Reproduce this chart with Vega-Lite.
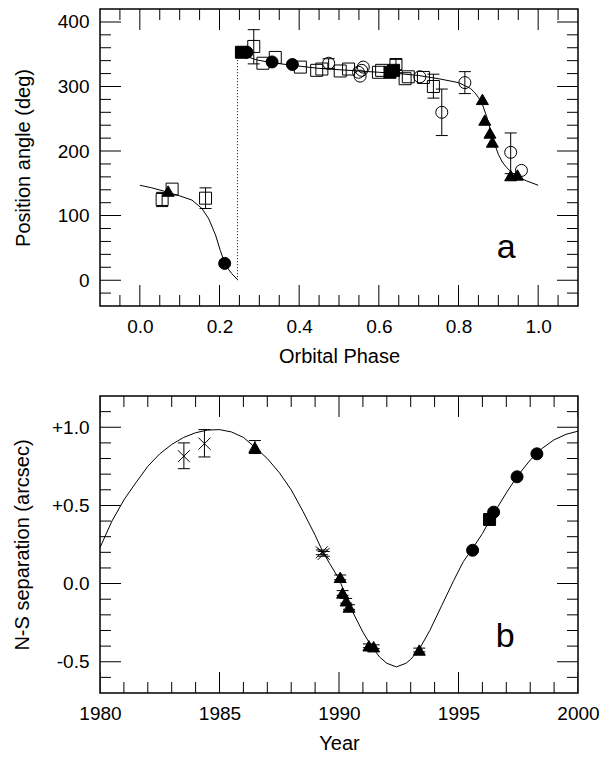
{
  "$schema": "https://vega.github.io/schema/vega-lite/v6.json",
  "padding": {"left": 11, "top": 8, "right": 5, "bottom": 5},
  "spacing": 28,
  "config": {
    "font": "Liberation Sans",
    "view": {"stroke": "black", "strokeWidth": 1.5},
    "axis": {"labelFont": "Liberation Sans", "labelFontSize": 19, "labelColor": "black", "titleFont": "Liberation Sans", "titleFontSize": 20, "titleFontWeight": "normal", "titleColor": "black"}
  },
  "datasets": {
    "xt1": [{"t": -0.05, "k": "minor"}, {"t": 0, "k": "major"}, {"t": 0.05, "k": "minor"}, {"t": 0.1, "k": "minor"}, {"t": 0.15, "k": "minor"}, {"t": 0.2, "k": "major"}, {"t": 0.25, "k": "minor"}, {"t": 0.3, "k": "minor"}, {"t": 0.35, "k": "minor"}, {"t": 0.4, "k": "major"}, {"t": 0.45, "k": "minor"}, {"t": 0.5, "k": "minor"}, {"t": 0.55, "k": "minor"}, {"t": 0.6, "k": "major"}, {"t": 0.65, "k": "minor"}, {"t": 0.7, "k": "minor"}, {"t": 0.75, "k": "minor"}, {"t": 0.8, "k": "major"}, {"t": 0.85, "k": "minor"}, {"t": 0.9, "k": "minor"}, {"t": 0.95, "k": "minor"}, {"t": 1.0, "k": "major"}, {"t": 1.05, "k": "minor"}],
    "yt1": [{"t": -20, "k": "minor"}, {"t": 0, "k": "major"}, {"t": 20, "k": "minor"}, {"t": 40, "k": "minor"}, {"t": 60, "k": "minor"}, {"t": 80, "k": "minor"}, {"t": 100, "k": "major"}, {"t": 120, "k": "minor"}, {"t": 140, "k": "minor"}, {"t": 160, "k": "minor"}, {"t": 180, "k": "minor"}, {"t": 200, "k": "major"}, {"t": 220, "k": "minor"}, {"t": 240, "k": "minor"}, {"t": 260, "k": "minor"}, {"t": 280, "k": "minor"}, {"t": 300, "k": "major"}, {"t": 320, "k": "minor"}, {"t": 340, "k": "minor"}, {"t": 360, "k": "minor"}, {"t": 380, "k": "minor"}, {"t": 400, "k": "major"}],
    "xt2": [{"t": 1980, "k": "major"}, {"t": 1981, "k": "minor"}, {"t": 1982, "k": "minor"}, {"t": 1983, "k": "minor"}, {"t": 1984, "k": "minor"}, {"t": 1985, "k": "major"}, {"t": 1986, "k": "minor"}, {"t": 1987, "k": "minor"}, {"t": 1988, "k": "minor"}, {"t": 1989, "k": "minor"}, {"t": 1990, "k": "major"}, {"t": 1991, "k": "minor"}, {"t": 1992, "k": "minor"}, {"t": 1993, "k": "minor"}, {"t": 1994, "k": "minor"}, {"t": 1995, "k": "major"}, {"t": 1996, "k": "minor"}, {"t": 1997, "k": "minor"}, {"t": 1998, "k": "minor"}, {"t": 1999, "k": "minor"}, {"t": 2000, "k": "major"}],
    "yt2": [{"t": -0.6, "k": "minor"}, {"t": -0.5, "k": "major"}, {"t": -0.4, "k": "minor"}, {"t": -0.3, "k": "minor"}, {"t": -0.2, "k": "minor"}, {"t": -0.1, "k": "minor"}, {"t": 0, "k": "major"}, {"t": 0.1, "k": "minor"}, {"t": 0.2, "k": "minor"}, {"t": 0.3, "k": "minor"}, {"t": 0.4, "k": "minor"}, {"t": 0.5, "k": "major"}, {"t": 0.6, "k": "minor"}, {"t": 0.7, "k": "minor"}, {"t": 0.8, "k": "minor"}, {"t": 0.9, "k": "minor"}, {"t": 1.0, "k": "major"}, {"t": 1.1, "k": "minor"}],
    "topcurve": [
      {"p": 0.0, "v": 147, "seg": 1}, {"p": 0.03, "v": 143, "seg": 1}, {"p": 0.06, "v": 138, "seg": 1}, {"p": 0.098, "v": 131, "seg": 1}, {"p": 0.131, "v": 124, "seg": 1}, {"p": 0.156, "v": 111, "seg": 1}, {"p": 0.173, "v": 95, "seg": 1}, {"p": 0.19, "v": 70, "seg": 1}, {"p": 0.202, "v": 46, "seg": 1}, {"p": 0.215, "v": 23, "seg": 1}, {"p": 0.231, "v": 10, "seg": 1}, {"p": 0.245, "v": 1, "seg": 1},
      {"p": 0.245, "v": 350, "seg": 2}, {"p": 0.27, "v": 346, "seg": 2}, {"p": 0.295, "v": 341, "seg": 2}, {"p": 0.33, "v": 337, "seg": 2}, {"p": 0.38, "v": 333, "seg": 2}, {"p": 0.45, "v": 328, "seg": 2}, {"p": 0.5, "v": 326, "seg": 2}, {"p": 0.55, "v": 324, "seg": 2}, {"p": 0.6, "v": 322, "seg": 2}, {"p": 0.65, "v": 320, "seg": 2}, {"p": 0.7, "v": 317, "seg": 2}, {"p": 0.75, "v": 312, "seg": 2}, {"p": 0.8, "v": 306, "seg": 2}, {"p": 0.83, "v": 297, "seg": 2}, {"p": 0.84, "v": 291, "seg": 2}, {"p": 0.85, "v": 283, "seg": 2}, {"p": 0.86, "v": 272, "seg": 2}, {"p": 0.87, "v": 255, "seg": 2}, {"p": 0.88, "v": 233, "seg": 2}, {"p": 0.89, "v": 212, "seg": 2}, {"p": 0.9, "v": 195, "seg": 2}, {"p": 0.91, "v": 183, "seg": 2}, {"p": 0.92, "v": 175, "seg": 2}, {"p": 0.935, "v": 166, "seg": 2}, {"p": 0.95, "v": 160, "seg": 2}, {"p": 0.97, "v": 154, "seg": 2}, {"p": 1.0, "v": 147, "seg": 2}
    ],
    "dotted": [{"p": 0.245, "lo": 0, "hi": 345}],
    "top": [
      {"p": 0.056, "v": 125, "sym": "osq", "lo": 114, "hi": 136},
      {"p": 0.081, "v": 141, "sym": "osq"},
      {"p": 0.165, "v": 127, "sym": "osq", "lo": 111, "hi": 143},
      {"p": 0.286, "v": 362, "sym": "osq", "lo": 335, "hi": 388},
      {"p": 0.309, "v": 336, "sym": "osq"},
      {"p": 0.34, "v": 345, "sym": "osq"},
      {"p": 0.403, "v": 330, "sym": "osq"},
      {"p": 0.444, "v": 325, "sym": "osq"},
      {"p": 0.457, "v": 327, "sym": "osq"},
      {"p": 0.503, "v": 324, "sym": "osq"},
      {"p": 0.524, "v": 327, "sym": "osq"},
      {"p": 0.599, "v": 322, "sym": "osq"},
      {"p": 0.607, "v": 325, "sym": "osq"},
      {"p": 0.643, "v": 334, "sym": "osq", "lo": 326, "hi": 342},
      {"p": 0.666, "v": 312, "sym": "osq"},
      {"p": 0.674, "v": 315, "sym": "osq"},
      {"p": 0.712, "v": 314, "sym": "osq"},
      {"p": 0.737, "v": 300, "sym": "osq", "lo": 282, "hi": 319},
      {"p": 0.474, "v": 336, "sym": "oci", "lo": 328, "hi": 343},
      {"p": 0.549, "v": 322, "sym": "oci"},
      {"p": 0.553, "v": 316, "sym": "oci"},
      {"p": 0.557, "v": 325, "sym": "oci"},
      {"p": 0.561, "v": 330, "sym": "oci"},
      {"p": 0.703, "v": 315, "sym": "oci"},
      {"p": 0.758, "v": 260, "sym": "oci", "lo": 224, "hi": 296},
      {"p": 0.816, "v": 306, "sym": "oci", "lo": 289, "hi": 323},
      {"p": 0.931, "v": 198, "sym": "oci", "lo": 165, "hi": 228},
      {"p": 0.958, "v": 170, "sym": "oci"},
      {"p": 0.213, "v": 26, "sym": "fci"},
      {"p": 0.269, "v": 353, "sym": "fci"},
      {"p": 0.332, "v": 338, "sym": "fci"},
      {"p": 0.383, "v": 334, "sym": "fci"},
      {"p": 0.255, "v": 353, "sym": "fsq"},
      {"p": 0.628, "v": 322, "sym": "fsq"},
      {"p": 0.637, "v": 325, "sym": "fsq"},
      {"p": 0.071, "v": 138, "sym": "ftr"},
      {"p": 0.86, "v": 280, "sym": "ftr"},
      {"p": 0.866, "v": 248, "sym": "ftr"},
      {"p": 0.879, "v": 228, "sym": "ftr"},
      {"p": 0.885, "v": 214, "sym": "ftr"},
      {"p": 0.931, "v": 162, "sym": "ftr"},
      {"p": 0.948, "v": 163, "sym": "ftr"}
    ],
    "toplab": [{"p": 0.92, "v": 50, "t": "a"}],
    "botcurve": [
      {"yr": 1980.0, "v": 0.23}, {"yr": 1980.5, "v": 0.4}, {"yr": 1981.0, "v": 0.535}, {"yr": 1981.5, "v": 0.645}, {"yr": 1982.0, "v": 0.75}, {"yr": 1982.5, "v": 0.83}, {"yr": 1983.0, "v": 0.89}, {"yr": 1983.5, "v": 0.935}, {"yr": 1984.0, "v": 0.965}, {"yr": 1984.5, "v": 0.982}, {"yr": 1985.0, "v": 0.985}, {"yr": 1985.5, "v": 0.97}, {"yr": 1986.0, "v": 0.935}, {"yr": 1986.5, "v": 0.87}, {"yr": 1987.0, "v": 0.8}, {"yr": 1987.5, "v": 0.71}, {"yr": 1988.0, "v": 0.6}, {"yr": 1988.5, "v": 0.46}, {"yr": 1989.0, "v": 0.31}, {"yr": 1989.3, "v": 0.21}, {"yr": 1989.6, "v": 0.13}, {"yr": 1990.0, "v": 0.03}, {"yr": 1990.5, "v": -0.16}, {"yr": 1991.0, "v": -0.31}, {"yr": 1991.35, "v": -0.4}, {"yr": 1991.7, "v": -0.47}, {"yr": 1992.0, "v": -0.51}, {"yr": 1992.4, "v": -0.533}, {"yr": 1992.8, "v": -0.51}, {"yr": 1993.0, "v": -0.485}, {"yr": 1993.36, "v": -0.42}, {"yr": 1993.8, "v": -0.3}, {"yr": 1994.3, "v": -0.14}, {"yr": 1994.8, "v": 0.02}, {"yr": 1995.2, "v": 0.14}, {"yr": 1995.59, "v": 0.225}, {"yr": 1996.0, "v": 0.32}, {"yr": 1996.4, "v": 0.43}, {"yr": 1997.0, "v": 0.58}, {"yr": 1997.45, "v": 0.685}, {"yr": 1998.0, "v": 0.79}, {"yr": 1998.5, "v": 0.865}, {"yr": 1999.0, "v": 0.92}, {"yr": 1999.5, "v": 0.955}, {"yr": 2000.0, "v": 0.975}
    ],
    "bot": [
      {"yr": 1983.51, "v": 0.815, "sym": "xm", "lo": 0.735, "hi": 0.9},
      {"yr": 1984.37, "v": 0.895, "sym": "xm", "lo": 0.81, "hi": 0.985},
      {"yr": 1989.28, "v": 0.2, "sym": "xm", "lo": 0.185, "hi": 0.215},
      {"yr": 1989.36, "v": 0.19, "sym": "xm", "lo": 0.175, "hi": 0.205},
      {"yr": 1986.48, "v": 0.872, "sym": "ftr", "lo": 0.832, "hi": 0.915},
      {"yr": 1990.05, "v": 0.04, "sym": "ftr", "lo": 0.025, "hi": 0.055},
      {"yr": 1990.15, "v": -0.06, "sym": "ftr", "lo": -0.075, "hi": -0.045},
      {"yr": 1990.3, "v": -0.11, "sym": "ftr", "lo": -0.125, "hi": -0.095},
      {"yr": 1990.42, "v": -0.15, "sym": "ftr", "lo": -0.165, "hi": -0.135},
      {"yr": 1991.25, "v": -0.398, "sym": "ftr", "lo": -0.41, "hi": -0.386},
      {"yr": 1991.45, "v": -0.404, "sym": "ftr", "lo": -0.416, "hi": -0.392},
      {"yr": 1993.36, "v": -0.425, "sym": "ftr", "lo": -0.437, "hi": -0.413},
      {"yr": 1995.59, "v": 0.213, "sym": "fci"},
      {"yr": 1996.47, "v": 0.457, "sym": "fci"},
      {"yr": 1997.45, "v": 0.683, "sym": "fci"},
      {"yr": 1998.28, "v": 0.83, "sym": "fci"},
      {"yr": 1996.3, "v": 0.41, "sym": "fsq"}
    ],
    "botlab": [{"yr": 1996.95, "v": -0.34, "t": "b"}]
  },
  "vconcat": [
    {
      "width": 478, "height": 297,
      "resolve": {"axis": {"x": "independent", "y": "independent"}, "scale": {"size": "independent"}},
      "layer": [
        {
          "data": {"name": "topcurve"},
          "mark": {"type": "line", "color": "black", "strokeWidth": 1},
          "encoding": {
            "x": {"field": "p", "type": "quantitative", "scale": {"domain": [-0.1, 1.1], "nice": false, "zero": false}, "axis": {"orient": "bottom", "values": [0, 0.2, 0.4, 0.6, 0.8, 1.0], "format": ".1f", "ticks": false, "domain": false, "grid": false, "labelFlush": false, "labelOverlap": false, "labelPadding": 11, "title": "Orbital Phase", "titlePadding": 10}},
            "y": {"field": "v", "type": "quantitative", "scale": {"domain": [-40, 420], "nice": false, "zero": false}, "axis": {"orient": "left", "values": [0, 100, 200, 300, 400], "format": "d", "ticks": false, "domain": false, "grid": false, "labelFlush": false, "labelOverlap": false, "labelPadding": 11, "title": "Position angle (deg)", "titlePadding": 24}},
            "detail": {"field": "seg", "type": "nominal"}
          }
        },
        {
          "data": {"name": "xt1"},
          "mark": {"type": "tick", "orient": "vertical", "thickness": 1, "color": "black", "opacity": 1, "clip": true},
          "encoding": {
            "x": {"field": "t", "type": "quantitative", "scale": {"domain": [-0.1, 1.1], "nice": false, "zero": false}, "axis": null},
            "y": {"datum": -40, "type": "quantitative", "scale": {"domain": [-40, 420], "nice": false, "zero": false}, "axis": null},
            "size": {"field": "k", "type": "nominal", "scale": {"domain": ["major", "minor"], "range": [42, 22]}, "legend": null}
          }
        },
        {
          "data": {"name": "xt1"},
          "mark": {"type": "tick", "orient": "vertical", "thickness": 1, "color": "black", "opacity": 1, "clip": true},
          "encoding": {
            "x": {"field": "t", "type": "quantitative", "scale": {"domain": [-0.1, 1.1], "nice": false, "zero": false}, "axis": null},
            "y": {"datum": 420, "type": "quantitative", "scale": {"domain": [-40, 420], "nice": false, "zero": false}, "axis": null},
            "size": {"field": "k", "type": "nominal", "scale": {"domain": ["major", "minor"], "range": [42, 22]}, "legend": null}
          }
        },
        {
          "data": {"name": "yt1"},
          "mark": {"type": "tick", "orient": "horizontal", "thickness": 1, "color": "black", "opacity": 1, "clip": true},
          "encoding": {
            "y": {"field": "t", "type": "quantitative", "scale": {"domain": [-40, 420], "nice": false, "zero": false}, "axis": null},
            "x": {"datum": -0.1, "type": "quantitative", "scale": {"domain": [-0.1, 1.1], "nice": false, "zero": false}, "axis": null},
            "size": {"field": "k", "type": "nominal", "scale": {"domain": ["major", "minor"], "range": [42, 22]}, "legend": null}
          }
        },
        {
          "data": {"name": "yt1"},
          "mark": {"type": "tick", "orient": "horizontal", "thickness": 1, "color": "black", "opacity": 1, "clip": true},
          "encoding": {
            "y": {"field": "t", "type": "quantitative", "scale": {"domain": [-40, 420], "nice": false, "zero": false}, "axis": null},
            "x": {"datum": 1.1, "type": "quantitative", "scale": {"domain": [-0.1, 1.1], "nice": false, "zero": false}, "axis": null},
            "size": {"field": "k", "type": "nominal", "scale": {"domain": ["major", "minor"], "range": [42, 22]}, "legend": null}
          }
        },
        {
          "data": {"name": "dotted"},
          "mark": {"type": "rule", "color": "black", "strokeWidth": 1, "strokeDash": [1, 2]},
          "encoding": {
            "x": {"field": "p", "type": "quantitative", "scale": {"domain": [-0.1, 1.1], "nice": false, "zero": false}, "axis": null},
            "y": {"field": "lo", "type": "quantitative", "scale": {"domain": [-40, 420], "nice": false, "zero": false}, "axis": null},
            "y2": {"field": "hi"}
          }
        },
        {
          "data": {"name": "top"},
          "transform": [{"filter": "datum.lo != null"}],
          "mark": {"type": "rule", "color": "black", "strokeWidth": 1},
          "encoding": {
            "x": {"field": "p", "type": "quantitative", "scale": {"domain": [-0.1, 1.1], "nice": false, "zero": false}, "axis": null},
            "y": {"field": "lo", "type": "quantitative", "scale": {"domain": [-40, 420], "nice": false, "zero": false}, "axis": null},
            "y2": {"field": "hi"}
          }
        },
        {
          "data": {"name": "top"},
          "transform": [{"filter": "datum.lo != null"}],
          "mark": {"type": "point", "shape": "M-1,0L1,0", "size": 144, "stroke": "black", "strokeWidth": 1, "opacity": 1, "filled": false},
          "encoding": {
            "x": {"field": "p", "type": "quantitative", "scale": {"domain": [-0.1, 1.1], "nice": false, "zero": false}, "axis": null},
            "y": {"field": "lo", "type": "quantitative", "scale": {"domain": [-40, 420], "nice": false, "zero": false}, "axis": null}
          }
        },
        {
          "data": {"name": "top"},
          "transform": [{"filter": "datum.hi != null"}],
          "mark": {"type": "point", "shape": "M-1,0L1,0", "size": 144, "stroke": "black", "strokeWidth": 1, "opacity": 1, "filled": false},
          "encoding": {
            "x": {"field": "p", "type": "quantitative", "scale": {"domain": [-0.1, 1.1], "nice": false, "zero": false}, "axis": null},
            "y": {"field": "hi", "type": "quantitative", "scale": {"domain": [-40, 420], "nice": false, "zero": false}, "axis": null}
          }
        },
        {
          "data": {"name": "top"},
          "mark": {"type": "point", "stroke": "black", "strokeWidth": 1, "opacity": 1},
          "encoding": {
            "x": {"field": "p", "type": "quantitative", "scale": {"domain": [-0.1, 1.1], "nice": false, "zero": false}, "axis": null},
            "y": {"field": "v", "type": "quantitative", "scale": {"domain": [-40, 420], "nice": false, "zero": false}, "axis": null},
            "shape": {"field": "sym", "type": "nominal", "scale": {"domain": ["osq", "oci", "fci", "fsq", "ftr", "xm"], "range": ["square", "circle", "circle", "square", "triangle-up", "M-1,-1L1,1M-1,1L1,-1"]}, "legend": null},
            "fill": {"field": "sym", "type": "nominal", "scale": {"domain": ["osq", "oci", "fci", "fsq", "ftr", "xm"], "range": ["transparent", "transparent", "black", "black", "black", "transparent"]}, "legend": null},
            "size": {"field": "sym", "type": "nominal", "scale": {"domain": ["osq", "oci", "fci", "fsq", "ftr", "xm"], "range": [144, 144, 160, 144, 160, 100]}, "legend": null}
          }
        },
        {
          "data": {"name": "toplab"},
          "mark": {"type": "text", "fontSize": 34, "font": "Liberation Sans", "color": "black", "baseline": "middle", "align": "center"},
          "encoding": {
            "x": {"field": "p", "type": "quantitative", "scale": {"domain": [-0.1, 1.1], "nice": false, "zero": false}, "axis": null},
            "y": {"field": "v", "type": "quantitative", "scale": {"domain": [-40, 420], "nice": false, "zero": false}, "axis": null},
            "text": {"field": "t"}
          }
        }
      ]
    },
    {
      "width": 478, "height": 297,
      "resolve": {"axis": {"x": "independent", "y": "independent"}, "scale": {"size": "independent"}},
      "layer": [
        {
          "data": {"name": "botcurve"},
          "mark": {"type": "line", "color": "black", "strokeWidth": 1},
          "encoding": {
            "x": {"field": "yr", "type": "quantitative", "scale": {"domain": [1980, 2000], "nice": false, "zero": false}, "axis": {"orient": "bottom", "values": [1980, 1985, 1990, 1995, 2000], "format": "d", "ticks": false, "domain": false, "grid": false, "labelFlush": false, "labelOverlap": false, "labelPadding": 11, "title": "Year", "titlePadding": 10}},
            "y": {"field": "v", "type": "quantitative", "scale": {"domain": [-0.7, 1.2], "nice": false, "zero": false}, "axis": {"orient": "left", "values": [-0.5, 0, 0.5, 1.0], "labelExpr": "datum.value == 0 ? '0.0' : (datum.value > 0 ? '+' + format(datum.value, '.1f') : '-' + format(-datum.value, '.1f'))", "ticks": false, "domain": false, "grid": false, "labelFlush": false, "labelOverlap": false, "labelPadding": 11, "title": "N-S separation (arcsec)", "titlePadding": 19}}
          }
        },
        {
          "data": {"name": "xt2"},
          "mark": {"type": "tick", "orient": "vertical", "thickness": 1, "color": "black", "opacity": 1, "clip": true},
          "encoding": {
            "x": {"field": "t", "type": "quantitative", "scale": {"domain": [1980, 2000], "nice": false, "zero": false}, "axis": null},
            "y": {"datum": -0.7, "type": "quantitative", "scale": {"domain": [-0.7, 1.2], "nice": false, "zero": false}, "axis": null},
            "size": {"field": "k", "type": "nominal", "scale": {"domain": ["major", "minor"], "range": [42, 22]}, "legend": null}
          }
        },
        {
          "data": {"name": "xt2"},
          "mark": {"type": "tick", "orient": "vertical", "thickness": 1, "color": "black", "opacity": 1, "clip": true},
          "encoding": {
            "x": {"field": "t", "type": "quantitative", "scale": {"domain": [1980, 2000], "nice": false, "zero": false}, "axis": null},
            "y": {"datum": 1.2, "type": "quantitative", "scale": {"domain": [-0.7, 1.2], "nice": false, "zero": false}, "axis": null},
            "size": {"field": "k", "type": "nominal", "scale": {"domain": ["major", "minor"], "range": [42, 22]}, "legend": null}
          }
        },
        {
          "data": {"name": "yt2"},
          "mark": {"type": "tick", "orient": "horizontal", "thickness": 1, "color": "black", "opacity": 1, "clip": true},
          "encoding": {
            "y": {"field": "t", "type": "quantitative", "scale": {"domain": [-0.7, 1.2], "nice": false, "zero": false}, "axis": null},
            "x": {"datum": 1980, "type": "quantitative", "scale": {"domain": [1980, 2000], "nice": false, "zero": false}, "axis": null},
            "size": {"field": "k", "type": "nominal", "scale": {"domain": ["major", "minor"], "range": [42, 22]}, "legend": null}
          }
        },
        {
          "data": {"name": "yt2"},
          "mark": {"type": "tick", "orient": "horizontal", "thickness": 1, "color": "black", "opacity": 1, "clip": true},
          "encoding": {
            "y": {"field": "t", "type": "quantitative", "scale": {"domain": [-0.7, 1.2], "nice": false, "zero": false}, "axis": null},
            "x": {"datum": 2000, "type": "quantitative", "scale": {"domain": [1980, 2000], "nice": false, "zero": false}, "axis": null},
            "size": {"field": "k", "type": "nominal", "scale": {"domain": ["major", "minor"], "range": [42, 22]}, "legend": null}
          }
        },
        {
          "data": {"name": "bot"},
          "transform": [{"filter": "datum.lo != null"}],
          "mark": {"type": "rule", "color": "black", "strokeWidth": 1},
          "encoding": {
            "x": {"field": "yr", "type": "quantitative", "scale": {"domain": [1980, 2000], "nice": false, "zero": false}, "axis": null},
            "y": {"field": "lo", "type": "quantitative", "scale": {"domain": [-0.7, 1.2], "nice": false, "zero": false}, "axis": null},
            "y2": {"field": "hi"}
          }
        },
        {
          "data": {"name": "bot"},
          "transform": [{"filter": "datum.lo != null"}],
          "mark": {"type": "point", "shape": "M-1,0L1,0", "size": 144, "stroke": "black", "strokeWidth": 1, "opacity": 1, "filled": false},
          "encoding": {
            "x": {"field": "yr", "type": "quantitative", "scale": {"domain": [1980, 2000], "nice": false, "zero": false}, "axis": null},
            "y": {"field": "lo", "type": "quantitative", "scale": {"domain": [-0.7, 1.2], "nice": false, "zero": false}, "axis": null}
          }
        },
        {
          "data": {"name": "bot"},
          "transform": [{"filter": "datum.hi != null"}],
          "mark": {"type": "point", "shape": "M-1,0L1,0", "size": 144, "stroke": "black", "strokeWidth": 1, "opacity": 1, "filled": false},
          "encoding": {
            "x": {"field": "yr", "type": "quantitative", "scale": {"domain": [1980, 2000], "nice": false, "zero": false}, "axis": null},
            "y": {"field": "hi", "type": "quantitative", "scale": {"domain": [-0.7, 1.2], "nice": false, "zero": false}, "axis": null}
          }
        },
        {
          "data": {"name": "bot"},
          "mark": {"type": "point", "stroke": "black", "strokeWidth": 1, "opacity": 1},
          "encoding": {
            "x": {"field": "yr", "type": "quantitative", "scale": {"domain": [1980, 2000], "nice": false, "zero": false}, "axis": null},
            "y": {"field": "v", "type": "quantitative", "scale": {"domain": [-0.7, 1.2], "nice": false, "zero": false}, "axis": null},
            "shape": {"field": "sym", "type": "nominal", "scale": {"domain": ["osq", "oci", "fci", "fsq", "ftr", "xm"], "range": ["square", "circle", "circle", "square", "triangle-up", "M-1,-1L1,1M-1,1L1,-1"]}, "legend": null},
            "fill": {"field": "sym", "type": "nominal", "scale": {"domain": ["osq", "oci", "fci", "fsq", "ftr", "xm"], "range": ["transparent", "transparent", "black", "black", "black", "transparent"]}, "legend": null},
            "size": {"field": "sym", "type": "nominal", "scale": {"domain": ["osq", "oci", "fci", "fsq", "ftr", "xm"], "range": [144, 144, 160, 144, 160, 100]}, "legend": null}
          }
        },
        {
          "data": {"name": "botlab"},
          "mark": {"type": "text", "fontSize": 34, "font": "Liberation Sans", "color": "black", "baseline": "middle", "align": "center"},
          "encoding": {
            "x": {"field": "yr", "type": "quantitative", "scale": {"domain": [1980, 2000], "nice": false, "zero": false}, "axis": null},
            "y": {"field": "v", "type": "quantitative", "scale": {"domain": [-0.7, 1.2], "nice": false, "zero": false}, "axis": null},
            "text": {"field": "t"}
          }
        }
      ]
    }
  ]
}
